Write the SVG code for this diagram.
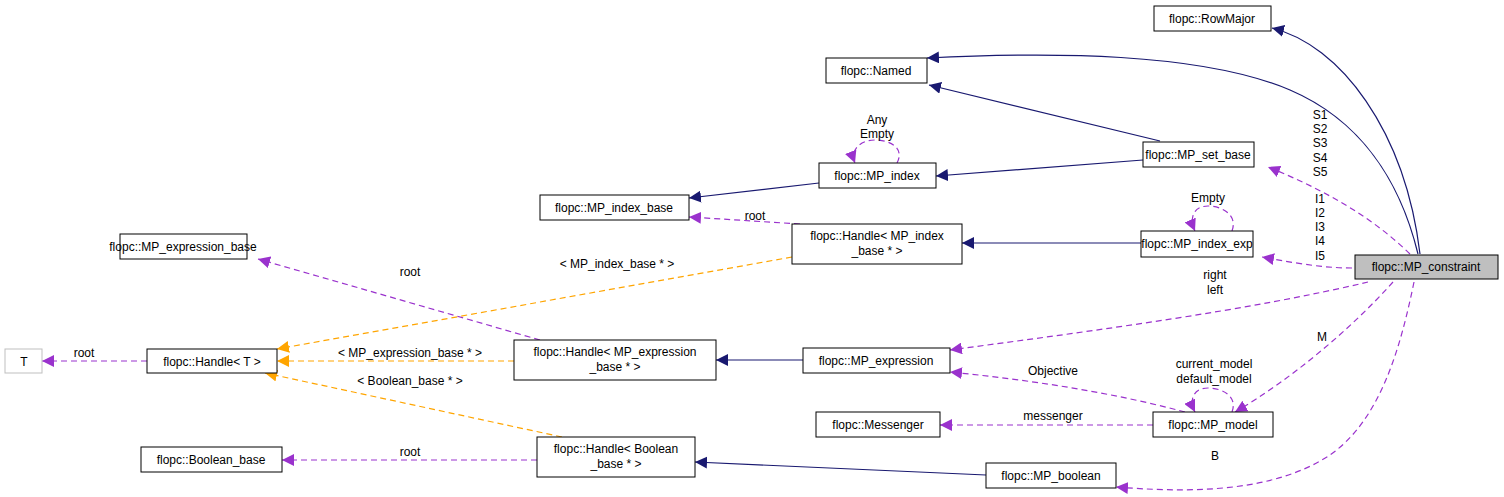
<svg xmlns="http://www.w3.org/2000/svg" width="1504" height="497" viewBox="0 0 1504 497">
<style>
text{font-family:"Liberation Sans",Arial,sans-serif;font-size:12px;fill:#000;text-anchor:middle}
.n rect{fill:#fff;stroke:#000;stroke-width:1}
.i{fill:none;stroke:#191970;stroke-width:1.2}
.u{fill:none;stroke:#9a32cd;stroke-width:1.2;stroke-dasharray:6,4}
.t{fill:none;stroke:#ffa500;stroke-width:1.2;stroke-dasharray:6,4}
</style>
<defs>
<marker id="ai" viewBox="0 0 10 10" refX="10" refY="5" markerWidth="12" markerHeight="12" markerUnits="userSpaceOnUse" orient="auto"><path d="M0,0L10,5L0,10z" fill="#191970"/></marker>
<marker id="au" viewBox="0 0 10 10" refX="10" refY="5" markerWidth="12" markerHeight="12" markerUnits="userSpaceOnUse" orient="auto"><path d="M0,0L10,5L0,10z" fill="#9a32cd"/></marker>
<marker id="at" viewBox="0 0 10 10" refX="10" refY="5" markerWidth="12" markerHeight="12" markerUnits="userSpaceOnUse" orient="auto"><path d="M0,0L10,5L0,10z" fill="#ffa500"/></marker>
</defs>
<g id="edges">
<path class="i" marker-end="url(#ai)" d="M1420,254C1405,130 1340,45 1272,28"/>
<path class="i" marker-end="url(#ai)" d="M1418,254C1400,180 1360,120 1290,90C1200,52 1050,52 927,58"/>
<path class="i" marker-end="url(#ai)" d="M1160,141L929,85"/>
<path class="i" marker-end="url(#ai)" d="M1143,160L936,176"/>
<path class="i" marker-end="url(#ai)" d="M819,183L689,198"/>
<path class="u" marker-end="url(#au)" d="M800,224L689,217"/>
<path class="u" marker-end="url(#au)" d="M897,163C905,148 890,140 875,140C860,140 850,150 855,163"/>
<path class="i" marker-end="url(#ai)" d="M1141,243L962,243"/>
<path class="u" marker-end="url(#au)" d="M1232,231C1238,215 1222,206 1208,206C1196,206 1188,215 1195,231"/>
<path class="u" marker-end="url(#au)" d="M1410,254C1370,215 1320,188 1268,167"/>
<path class="u" marker-end="url(#au)" d="M1352,268C1320,268 1290,262 1262,257"/>
<path class="u" marker-end="url(#au)" d="M1368,282C1250,310 1100,330 950,350"/>
<path class="u" marker-end="url(#au)" d="M1393,282C1350,330 1290,380 1235,412"/>
<path class="u" marker-end="url(#au)" d="M1232,412C1238,396 1222,388 1208,388C1195,388 1188,398 1195,412"/>
<path class="u" marker-end="url(#au)" d="M1414,282C1400,350 1380,420 1330,455C1270,495 1180,492 1116,487"/>
<path class="u" marker-end="url(#au)" d="M1185,412C1110,392 1030,380 950,372"/>
<path class="u" marker-end="url(#au)" d="M1153,425L940,425"/>
<path class="i" marker-end="url(#ai)" d="M986,475L695,462"/>
<path class="i" marker-end="url(#ai)" d="M803,360L716,360"/>
<path class="u" marker-end="url(#au)" d="M540,340L258,259"/>
<path class="t" marker-end="url(#at)" d="M792,257L277,349"/>
<path class="t" marker-end="url(#at)" d="M514,361L277,361"/>
<path class="t" marker-end="url(#at)" d="M562,437L265,373"/>
<path class="u" marker-end="url(#au)" d="M147,361L42,361"/>
<path class="u" marker-end="url(#au)" d="M537,460L282,460"/>
<text x="755" y="220">root</text>
<text x="877" y="124">Any</text><text x="877" y="138">Empty</text>
<text x="1208" y="202">Empty</text>
<text x="1320" y="119">S1</text><text x="1320" y="133">S2</text><text x="1320" y="147">S3</text><text x="1320" y="162">S4</text><text x="1320" y="176">S5</text>
<text x="1320" y="203">I1</text><text x="1320" y="217">I2</text><text x="1320" y="231">I3</text><text x="1320" y="245">I4</text><text x="1320" y="260">I5</text>
<text x="1215" y="279">right</text><text x="1215" y="294">left</text>
<text x="1322" y="341">M</text>
<text x="1214" y="368">current_model</text><text x="1214" y="383">default_model</text>
<text x="1215" y="460">B</text>
<text x="1053" y="375">Objective</text>
<text x="1053" y="420">messenger</text>
<text x="410" y="276">root</text>
<text x="617" y="268">&lt; MP_index_base * &gt;</text>
<text x="410" y="357">&lt; MP_expression_base * &gt;</text>
<text x="410" y="385">&lt; Boolean_base * &gt;</text>
<text x="84" y="357">root</text>
<text x="410" y="456">root</text>
</g>
<g id="RowMajor" class="n"><rect x="1154" y="6" width="117" height="25"/><text x="1212" y="23">flopc::RowMajor</text></g>
<g id="Named" class="n"><rect x="826" y="58" width="101" height="25"/><text x="876" y="75">flopc::Named</text></g>
<g id="MP_set_base" class="n"><rect x="1143" y="142" width="111" height="25"/><text x="1198" y="159">flopc::MP_set_base</text></g>
<g id="MP_index" class="n"><rect x="819" y="163" width="117" height="25"/><text x="877" y="180">flopc::MP_index</text></g>
<g id="MP_index_base" class="n"><rect x="540" y="195" width="149" height="25"/><text x="614" y="212">flopc::MP_index_base</text></g>
<g id="Handle_MP_index_base" class="n"><rect x="792" y="224" width="170" height="40"/><text x="877" y="240">flopc::Handle&lt; MP_index</text><text x="877" y="255">_base * &gt;</text></g>
<g id="MP_index_exp" class="n"><rect x="1141" y="231" width="112" height="26"/><text x="1197" y="248">flopc::MP_index_exp</text></g>
<g id="MP_constraint" class="n"><rect x="1355" y="255" width="143" height="24" style="fill:#bfbfbf"/><text x="1426" y="271">flopc::MP_constraint</text></g>
<g id="MP_expression_base" class="n"><rect x="120" y="234" width="127" height="25"/><text x="183" y="251">flopc::MP_expression_base</text></g>
<g id="T" class="n"><rect x="5" y="349" width="37" height="24" style="stroke:#bfbfbf"/><text x="24" y="366">T</text></g>
<g id="Handle_T" class="n"><rect x="147" y="349" width="130" height="24"/><text x="212" y="366">flopc::Handle&lt; T &gt;</text></g>
<g id="Handle_MP_expression_base" class="n"><rect x="514" y="340" width="202" height="40"/><text x="615" y="356">flopc::Handle&lt; MP_expression</text><text x="615" y="371">_base * &gt;</text></g>
<g id="MP_expression" class="n"><rect x="803" y="348" width="147" height="25"/><text x="876" y="365">flopc::MP_expression</text></g>
<g id="Messenger" class="n"><rect x="816" y="412" width="124" height="25"/><text x="878" y="429">flopc::Messenger</text></g>
<g id="MP_model" class="n"><rect x="1153" y="412" width="120" height="25"/><text x="1213" y="429">flopc::MP_model</text></g>
<g id="Boolean_base" class="n"><rect x="141" y="447" width="141" height="25"/><text x="211" y="464">flopc::Boolean_base</text></g>
<g id="Handle_Boolean_base" class="n"><rect x="537" y="437" width="158" height="40"/><text x="616" y="453">flopc::Handle&lt; Boolean</text><text x="616" y="468">_base * &gt;</text></g>
<g id="MP_boolean" class="n"><rect x="986" y="463" width="130" height="25"/><text x="1051" y="480">flopc::MP_boolean</text></g>
</svg>
